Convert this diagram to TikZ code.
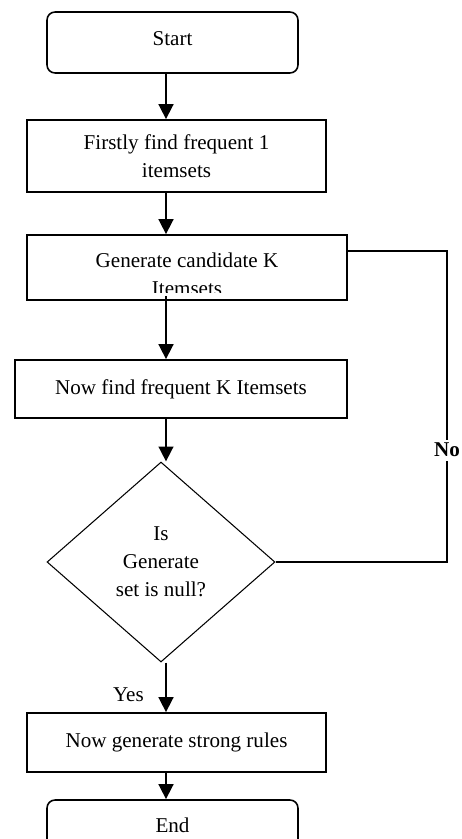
\documentclass[tikz,border=0pt]{standalone}
\usepackage{fontspec}
\setmainfont{Liberation Serif}
\usetikzlibrary{shapes,arrows,positioning,calc,arrows.meta}

\tikzset{
    terminal/.style={draw, line width=0.9pt, rounded corners=0.16cm, minimum width=5.02cm, font=\fontsize{12}{16}\selectfont},
    process/.style={draw, line width=0.9pt, align=center, inner sep=0pt, font=\fontsize{12}{16}\selectfont},
    decision/.style={diamond, draw, line width=0.6pt, inner sep=0pt, minimum width=4.56cm, minimum height=4cm, align=center, font=\fontsize{12}{16}\selectfont},
    flow/.style={line width=1.6pt, -{Triangle[width=0.29cm,length=0.3cm]}},
    loopline/.style={line width=0.8pt},
}

\begin{document}
\begin{tikzpicture}[x=0.02cm, y=-0.02cm]
    \useasboundingbox (0,0) rectangle (461,839);

    % boxes
    \node[terminal, minimum height=1.22cm, text depth=5pt] (start) at (172.5,42.5) {Start};
    \node[process, minimum width=5.98cm, minimum height=1.44cm] (first) at (176.5,156) {Firstly find frequent 1\\itemsets};
    \node[process, minimum width=6.4cm, minimum height=1.3cm] (gen) at (187,267.5) {};
    \begin{scope}
        \clip (gen.north west) rectangle ([yshift=0.16cm]gen.south east);
        \node[align=center, font=\fontsize{12}{16}\selectfont] (gentext) at (187,274) {Generate candidate K\\Itemsets};
    \end{scope}
    \node[process, minimum width=6.64cm, minimum height=1.16cm] (freq) at (181,389) {Now find frequent K Itemsets};
    \node[decision] (check) at (161,562) {Is\\Generate\\set is null?};
    \node[process, minimum width=5.98cm, minimum height=1.18cm] (rules) at (176.5,742.5) {Now generate strong rules};
    \node[terminal, minimum height=1.0cm] (end) at (172.5,825) {End};

    % arrows
    \coordinate (spine) at (166,0);
    \draw[flow] (start.south -| spine) -- (first.north -| spine);
    \draw[flow] (first.south -| spine) -- (gen.north -| spine);
    \draw[flow] ([yshift=0.1cm]gen.south -| spine) -- (freq.north -| spine);
    \draw[flow] (freq.south -| spine) -- (check.north -| spine);
    \draw[flow] (check.south -| spine) -- node[pos=0.65, left=0.3cm, font=\fontsize{12}{16}\selectfont] {Yes} (rules.north -| spine);
    \draw[flow] (rules.south -| spine) -- (end.north -| spine);

    % loop back
    \coordinate (loopx) at (447,0);
    \coordinate (looptop) at (447,251);
    \draw[loopline] (check.east) -- (check.east -| loopx)
        -- node[pos=0.36, fill=white, inner sep=2pt, font=\bfseries\fontsize{12}{16}\selectfont] {No} (looptop)
        -- (gen.east |- looptop);
\end{tikzpicture}
\end{document}
